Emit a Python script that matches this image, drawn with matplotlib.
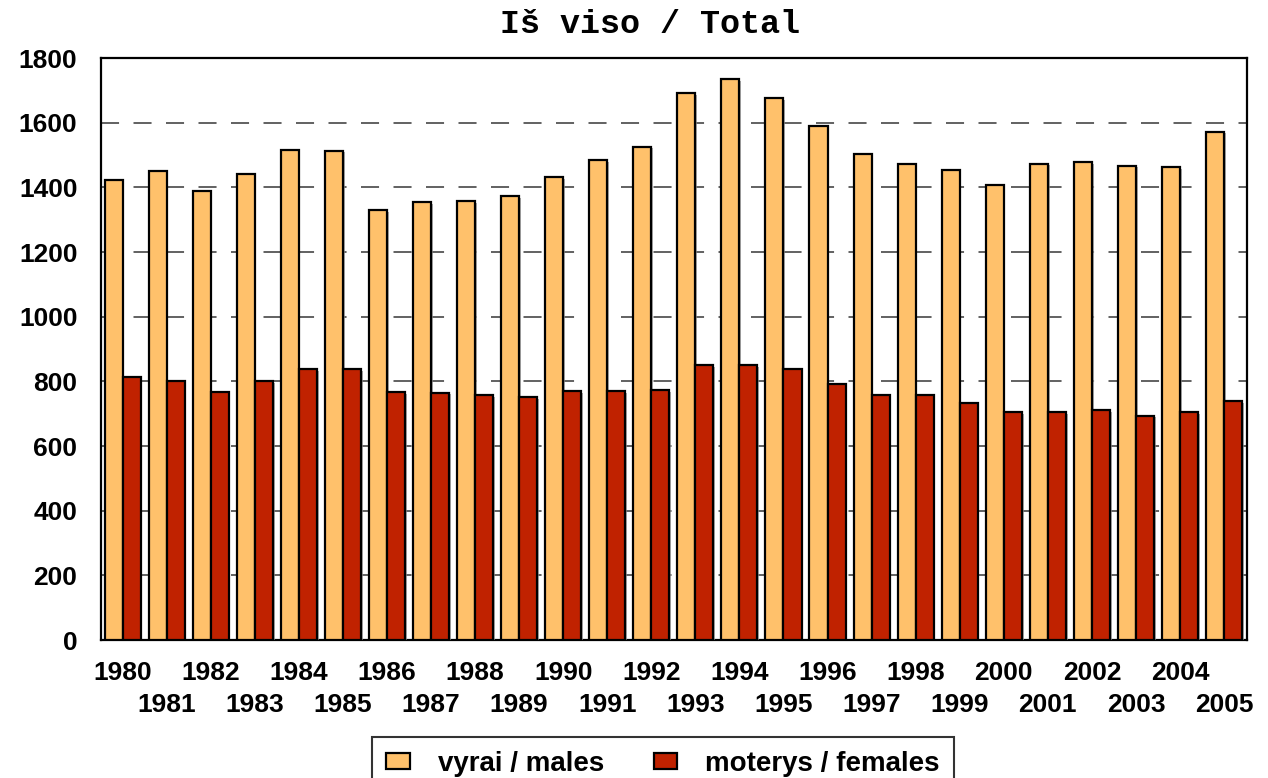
import numpy as np
import matplotlib
matplotlib.use("Agg")
import matplotlib.pyplot as plt
import matplotlib.patheffects as pe

years = list(range(1980, 2006))
males = [1422, 1449, 1390, 1440, 1514, 1513, 1330, 1354, 1357, 1372, 1432, 1483, 1526,
         1692, 1734, 1676, 1589, 1504, 1472, 1454, 1407, 1473, 1477, 1467, 1463, 1572]
females = [813, 802, 768, 801, 837, 838, 767, 765, 758, 752, 770, 770, 772,
           849, 849, 838, 793, 759, 759, 732, 705, 705, 710, 694, 705, 739]
labels = ["vyrai / males", "moterys / females"]
title = "Iš viso / Total"

plt.rcParams['font.family'] = ['Liberation Sans', 'DejaVu Sans']

fig = plt.figure(figsize=(12.68, 7.78), dpi=100)
ax = fig.add_axes([101 / 1268, 1 - 640 / 778, 1146 / 1268, 582 / 778])

x = np.arange(len(years))
w = 0.41
shadow = [pe.SimplePatchShadow(offset=(1.2, -1.2), shadow_rgbFace='#888888', alpha=0.7), pe.Normal()]
b1 = ax.bar(x - w / 2, males, w, color='#FFC16B', edgecolor='black', linewidth=1.6,
            label=labels[0], zorder=3)
b2 = ax.bar(x + w / 2, females, w, color='#C02200', edgecolor='black', linewidth=1.6,
            label=labels[1], zorder=3)
for p in list(b1) + list(b2):
    p.set_path_effects(shadow)

ax.set_xlim(-0.49, 25.52)
ax.set_ylim(0, 1800)
ax.set_yticks(range(0, 1801, 200))
ax.yaxis.grid(True, color='#555555', linestyle=(0, (10, 8)), linewidth=1.3, zorder=0)
ax.set_axisbelow(True)

ax.set_xticks(x[::2])
ax.set_xticklabels([str(y) for y in years[::2]])
ax.set_xticks(x[1::2], minor=True)
ax.set_xticklabels([str(y) for y in years[1::2]], minor=True)
ax.tick_params(axis='x', which='major', length=0, pad=15, labelsize=19)
ax.tick_params(axis='x', which='minor', length=0, pad=38, labelsize=19)
ax.tick_params(axis='y', length=0, pad=17, labelsize=19)
for t in ax.get_xticklabels(which='both') + ax.get_yticklabels():
    t.set_fontweight('bold')

for s in ax.spines.values():
    s.set_linewidth(1.6)
    s.set_color('black')

fig.text(650 / 1268, 1 - 33 / 778, title, ha='center', va='baseline',
         fontsize=24, fontweight='bold', family=['Liberation Mono', 'DejaVu Sans Mono'])

leg = fig.legend(handles=[b1, b2], labels=labels, loc='upper center', ncol=2,
                 bbox_to_anchor=(663 / 1268, 1 - 737 / 778), borderaxespad=0,
                 frameon=True, fancybox=False,
                 prop={'size': 20, 'weight': 'bold'}, handlelength=0.85, handleheight=0.5,
                 handletextpad=1.0, columnspacing=1.8, borderpad=0.5)
leg.get_frame().set_edgecolor('black')
leg.get_frame().set_linewidth(1.5)
for h in leg.legend_handles:
    h.set_path_effects([])

fig.savefig("out.png", dpi=100)
